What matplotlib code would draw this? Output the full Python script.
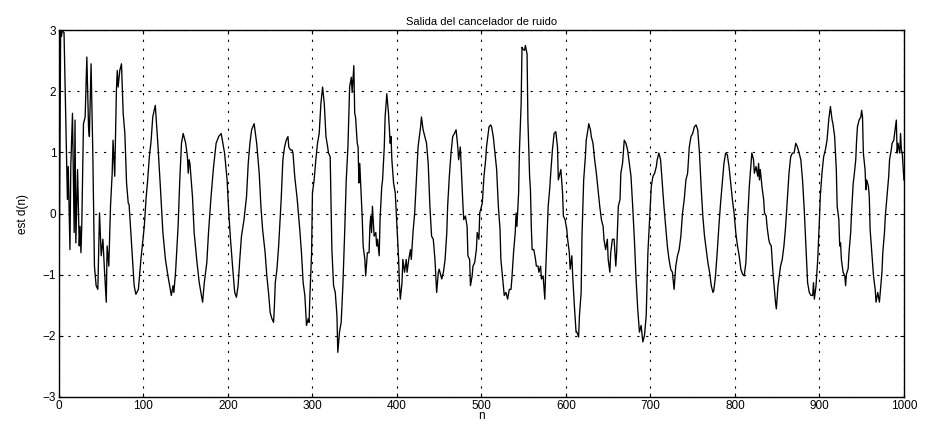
import matplotlib
matplotlib.use("Agg")
import matplotlib.pyplot as plt

plt.rcParams["font.family"] = ["Liberation Sans", "DejaVu Sans"]

# puntos (muestra n, valor)
n_a = [0, 2, 3, 4, 6, 10, 11, 13, 14, 16, 18, 19, 20, 22, 24, 25, 26, 27, 29, 31, 33, 35, 36, 38, 40,
       42, 44, 46, 48, 50, 52, 54, 56, 57, 59, 61, 63, 64, 66, 68, 69, 70, 72, 74, 76, 78, 80, 82, 83,
       87, 89, 91, 94, 97, 101, 103, 105, 107, 109, 111, 114]
d_a = [-1.62, 2.98, 2.9, 2.99, 2.96, 0.23, 0.77, -0.59, 0.77, 1.64, -0.31, 1.53, -0.48, 0.72, -0.53,
       -0.21, -0.64, -0.21, 1.47, 1.58, 2.56, 1.42, 1.26, 2.45, 1.04, -0.86, -1.18, -1.24, 0.01, -0.69,
       -0.42, -0.96, -1.45, -0.53, -0.86, 0.12, 0.66, 1.2, 0.61, 2.02, 2.34, 2.07, 2.34, 2.45, 1.64,
       1.31, 0.5, 0.17, 0.15, -0.75, -1.18, -1.32, -1.24, -0.75, -0.21, 0.23, 0.55, 0.93, 1.18, 1.58, 1.77]

n_b = [117, 120, 123, 126, 129, 131, 133, 135, 136, 138, 141, 143, 145, 147, 150, 152, 153, 154, 155,
       158, 160, 163, 166, 168, 170, 172, 175, 177, 180, 183, 186, 189, 192, 194, 196, 199, 201, 203,
       206, 208, 210, 212, 214, 216, 219, 222, 224, 226]
d_b = [1.15, 0.44, -0.31, -0.75, -1.02, -1.18, -1.34, -1.18, -1.29, -0.96, -0.21, 0.55, 1.15, 1.31,
       1.15, 0.93, 0.66, 0.88, 0.82, 0.28, -0.31, -0.75, -1.13, -1.29, -1.45, -1.13, -0.8, -0.31, 0.28,
       0.77, 1.15, 1.26, 1.31, 1.15, 0.99, 0.55, 0.01, -0.42, -0.96, -1.29, -1.37, -1.18, -0.75, -0.37,
       -0.1, 0.28, 0.82, 1.15]

n_c = [228, 231, 234, 237, 239, 241, 244, 246, 248, 250, 252, 254, 255, 256, 258, 260, 263, 264, 265,
       267, 269, 271, 272, 274, 276, 277, 279, 282, 285, 287, 289, 291, 293, 295, 296, 297, 299, 300,
       302, 304, 306, 308, 310, 312, 314, 316, 318, 319, 321, 323, 325, 327, 329, 330, 332, 334, 336,
       338, 340, 342]
d_c = [1.37, 1.47, 1.15, 0.66, 0.12, -0.26, -0.64, -1.02, -1.29, -1.62, -1.72, -1.78, -1.51, -1.13,
       -0.91, -0.53, 0.23, 0.55, 0.88, 1.09, 1.2, 1.26, 1.09, 1.04, 1.04, 0.99, 0.61, 0.23, -0.26, -0.64,
       -1.13, -1.34, -1.83, -1.72, -1.78, -1.34, -0.64, 0.34, 0.55, 0.88, 1.15, 1.31, 1.8, 2.07, 1.8,
       1.26, 1.09, 0.99, 0.93, -0.59, -1.18, -1.29, -1.67, -2.27, -1.94, -1.78, -1.18, -0.37, 0.55, 1.09]

n_d = [344, 346, 347, 349, 350, 351, 353, 354, 355, 356, 357, 359, 360, 362, 363, 365, 367, 368, 369,
       370, 371, 373, 375, 376, 377, 379, 380, 382, 383, 385, 386, 388, 390, 392, 393, 394, 396, 398,
       400, 402, 403, 404, 406, 407, 409, 411, 412, 414, 416, 417, 419, 421, 423, 425, 427, 428, 429,
       431, 433, 435, 437, 439, 441, 443, 445, 447, 449, 450, 453, 455, 457, 459, 460]
d_d = [2.07, 2.23, 1.98, 2.42, 1.64, 1.58, 1.15, 1.09, 0.5, 0.82, 0.5, -0.1, -0.53, -0.75, -1.02,
       -0.64, -0.64, -0.21, -0.04, -0.31, 0.12, -0.37, -0.31, -0.53, -0.42, -0.69, -0.1, 0.44, 0.55,
       1.09, 1.58, 1.96, 1.64, 1.15, 1.26, 0.88, 0.5, 0.34, -0.21, -0.75, -1.18, -1.4, -1.13, -0.75,
       -0.96, -0.75, -0.96, -0.75, -0.59, -0.75, -0.31, 0.01, 0.55, 1.09, 1.31, 1.42, 1.58, 1.37, 1.26,
       1.15, 0.82, 0.12, -0.37, -0.42, -0.75, -1.29, -0.96, -0.91, -1.07, -0.96, -0.75, -0.31, 0.12]

n_e = [462, 464, 466, 468, 470, 472, 473, 475, 476, 478, 479, 481, 483, 484, 486, 487, 489, 490, 492,
       494, 495, 497, 498, 500, 501, 503, 505, 506, 508, 509, 511, 512, 514, 516, 518, 520, 522, 523,
       526, 527, 529, 531, 533, 535, 536, 538, 540, 541, 542, 544, 545, 547, 548, 549, 551, 552, 554,
       555, 557, 558, 559, 560, 562, 564, 565, 567, 568, 570, 571, 573, 575, 576, 578]
d_e = [0.61, 0.99, 1.26, 1.31, 1.37, 1.09, 0.88, 1.09, 0.77, 0.17, -0.1, -0.04, -0.21, -0.69, -0.75,
       -1.18, -1.02, -0.86, -0.8, -0.59, -0.31, -0.42, 0.01, 0.12, 0.17, 0.61, 0.88, 1.09, 1.31, 1.42,
       1.45, 1.42, 1.26, 0.99, 0.72, 0.12, -0.26, -0.75, -1.18, -1.34, -1.29, -1.4, -1.24, -1.24, -1.07,
       -0.64, -0.31, 0.01, -0.21, 0.34, 1.04, 1.8, 2.72, 2.69, 2.67, 2.75, 2.61, 1.53, 0.61, 0.39, -0.21,
       -0.59, -0.59, -0.75, -0.86, -0.86, -0.96, -0.86, -1.07, -1.02, -1.4, -0.96, -0.21]

n_f = [579, 581, 582, 584, 586, 588, 590, 591, 593, 594, 596, 597, 599, 601, 602, 604, 605, 607, 608,
       610, 612, 613, 615, 616, 618, 619, 621, 623, 624, 626, 627, 629, 630, 632, 634, 636, 638, 640,
       642, 644, 645, 647, 649, 650, 652, 653, 655, 657, 659, 660, 662, 664, 665, 667, 669, 671, 673,
       675, 677, 679, 681, 683, 685, 687, 689, 691, 693, 695, 697]
d_f = [0.12, 0.44, 0.66, 1.04, 1.31, 1.34, 1.09, 0.55, 0.66, 0.72, 0.34, -0.04, -0.1, -0.26, -0.42,
       -0.64, -0.91, -0.69, -1.02, -1.51, -1.94, -1.94, -2.02, -1.67, -1.29, -0.37, 0.55, 0.93, 1.2,
       1.37, 1.47, 1.37, 1.26, 1.15, 0.88, 0.66, 0.39, 0.12, -0.1, -0.21, -0.42, -0.59, -0.42, -0.75,
       -0.96, -0.64, -0.42, -0.42, -0.86, -0.64, 0.12, 0.23, 0.66, 0.82, 1.2, 1.15, 1.04, 0.82, 0.61,
       0.12, -0.42, -1.07, -1.57, -1.94, -1.83, -2.1, -1.99, -1.67, -0.64]

n_g = [699, 701, 703, 705, 707, 708, 710, 712, 714, 716, 718, 720, 722, 724, 726, 728, 730, 732, 734,
       736, 738, 740, 742, 744, 746, 748, 750, 752, 754, 756, 758, 760, 762, 764, 766, 768, 770, 772,
       774, 775, 777, 779, 781, 783, 785, 787, 789, 791, 793, 795, 797, 799, 801, 803, 805, 807, 809,
       811, 813, 815]
d_g = [-0.1, 0.44, 0.61, 0.66, 0.77, 0.88, 0.99, 0.88, 0.5, 0.12, -0.21, -0.53, -0.75, -0.91, -0.96,
       -1.24, -0.86, -0.69, -0.59, -0.37, 0.01, 0.23, 0.55, 0.66, 1.09, 1.26, 1.31, 1.42, 1.45, 1.37,
       0.99, 0.44, -0.04, -0.37, -0.59, -0.8, -0.96, -1.18, -1.29, -1.26, -1.02, -0.64, -0.21, 0.17, 0.5,
       0.82, 0.99, 0.96, 0.77, 0.5, 0.23, 0.01, -0.31, -0.53, -0.69, -0.91, -0.99, -1.02, -0.8, -0.1]

n_h = [817, 819, 820, 822, 823, 825, 827, 828, 829, 830, 832, 834, 835, 837, 838, 840, 841, 843, 845,
       846, 848, 849, 851, 852, 854, 856, 858, 860, 862, 864, 866, 868, 870, 872, 874, 876, 878, 880,
       882, 884, 886, 888, 890, 892, 893, 894, 896, 898, 900, 901, 903, 905, 907, 909, 911, 913, 915,
       916, 918, 920]
d_h = [0.44, 0.82, 0.99, 0.88, 0.66, 0.77, 0.61, 0.82, 0.55, 0.72, 0.44, 0.23, 0.01, -0.04, -0.21,
       -0.42, -0.48, -0.53, -0.96, -1.13, -1.45, -1.56, -1.18, -1.07, -0.86, -0.75, -0.53, -0.21, 0.23,
       0.66, 0.93, 0.99, 0.99, 1.15, 1.09, 0.99, 0.88, 0.55, 0.07, -0.53, -1.13, -1.29, -1.34, -1.34,
       -1.13, -1.4, -1.18, -0.75, -0.1, 0.28, 0.66, 0.93, 1.04, 1.2, 1.53, 1.75, 1.53, 1.47, 1.26, 0.72]

n_i = [921, 923, 924, 925, 926, 928, 930, 931, 932, 934, 935, 937, 938, 940, 941, 943, 944, 945, 947,
       949, 950, 951, 952, 954, 955, 956, 958, 959, 960, 962, 964, 966, 967, 969, 971, 972, 974, 975,
       977, 978, 980, 982, 983, 985, 986, 988, 989, 991, 992, 993, 995, 996, 997, 998, 1000]
d_i = [0.12, -0.1, -0.53, -0.48, -0.75, -0.96, -1.02, -1.18, -0.99, -0.9, -0.64, -0.31, 0.01, 0.5,
       0.61, 0.88, 1.2, 1.42, 1.53, 1.58, 1.69, 1.58, 0.99, 0.72, 0.39, 0.55, 0.44, 0.28, -0.26, -0.64,
       -1.02, -1.24, -1.45, -1.29, -1.45, -1.29, -0.96, -0.64, -0.31, -0.04, 0.28, 0.61, 0.88, 1.04,
       1.15, 1.2, 1.31, 1.53, 0.99, 1.15, 0.99, 1.31, 1.04, 0.99, 0.55]

n = n_a + n_b + n_c + n_d + n_e + n_f + n_g + n_h + n_i
d = d_a + d_b + d_c + d_d + d_e + d_f + d_g + d_h + d_i

x_ticks = list(range(0, 1001, 100))
y_ticks = [-3, -2, -1, 0, 1, 2, 3]

fig = plt.figure(figsize=(9.27, 4.25), dpi=100)
ax = fig.add_axes([0.0636, 0.066, 0.9115, 0.863])
ax.plot(n, d, color="black", lw=0.95)

ax.set_xlim(0, 1000)
ax.set_ylim(-3, 3)
ax.set_xticks(x_ticks)
ax.set_yticks(y_ticks)
ax.tick_params(direction="in", length=3, labelsize=8.5, top=True, right=True, pad=2)
ax.grid(True, color="black", lw=0.8, linestyle=(0, (2, 6)))
for s in ax.spines.values():
    s.set_linewidth(1.0)

ax.set_title("Salida del cancelador de ruido", fontsize=8, pad=4)
ax.set_xlabel("n", fontsize=8.5)
ax.xaxis.set_label_coords(0.5, -0.036)
ax.set_ylabel("est d(n)", fontsize=8.5, labelpad=10)

fig.savefig("out.png", dpi=100)
